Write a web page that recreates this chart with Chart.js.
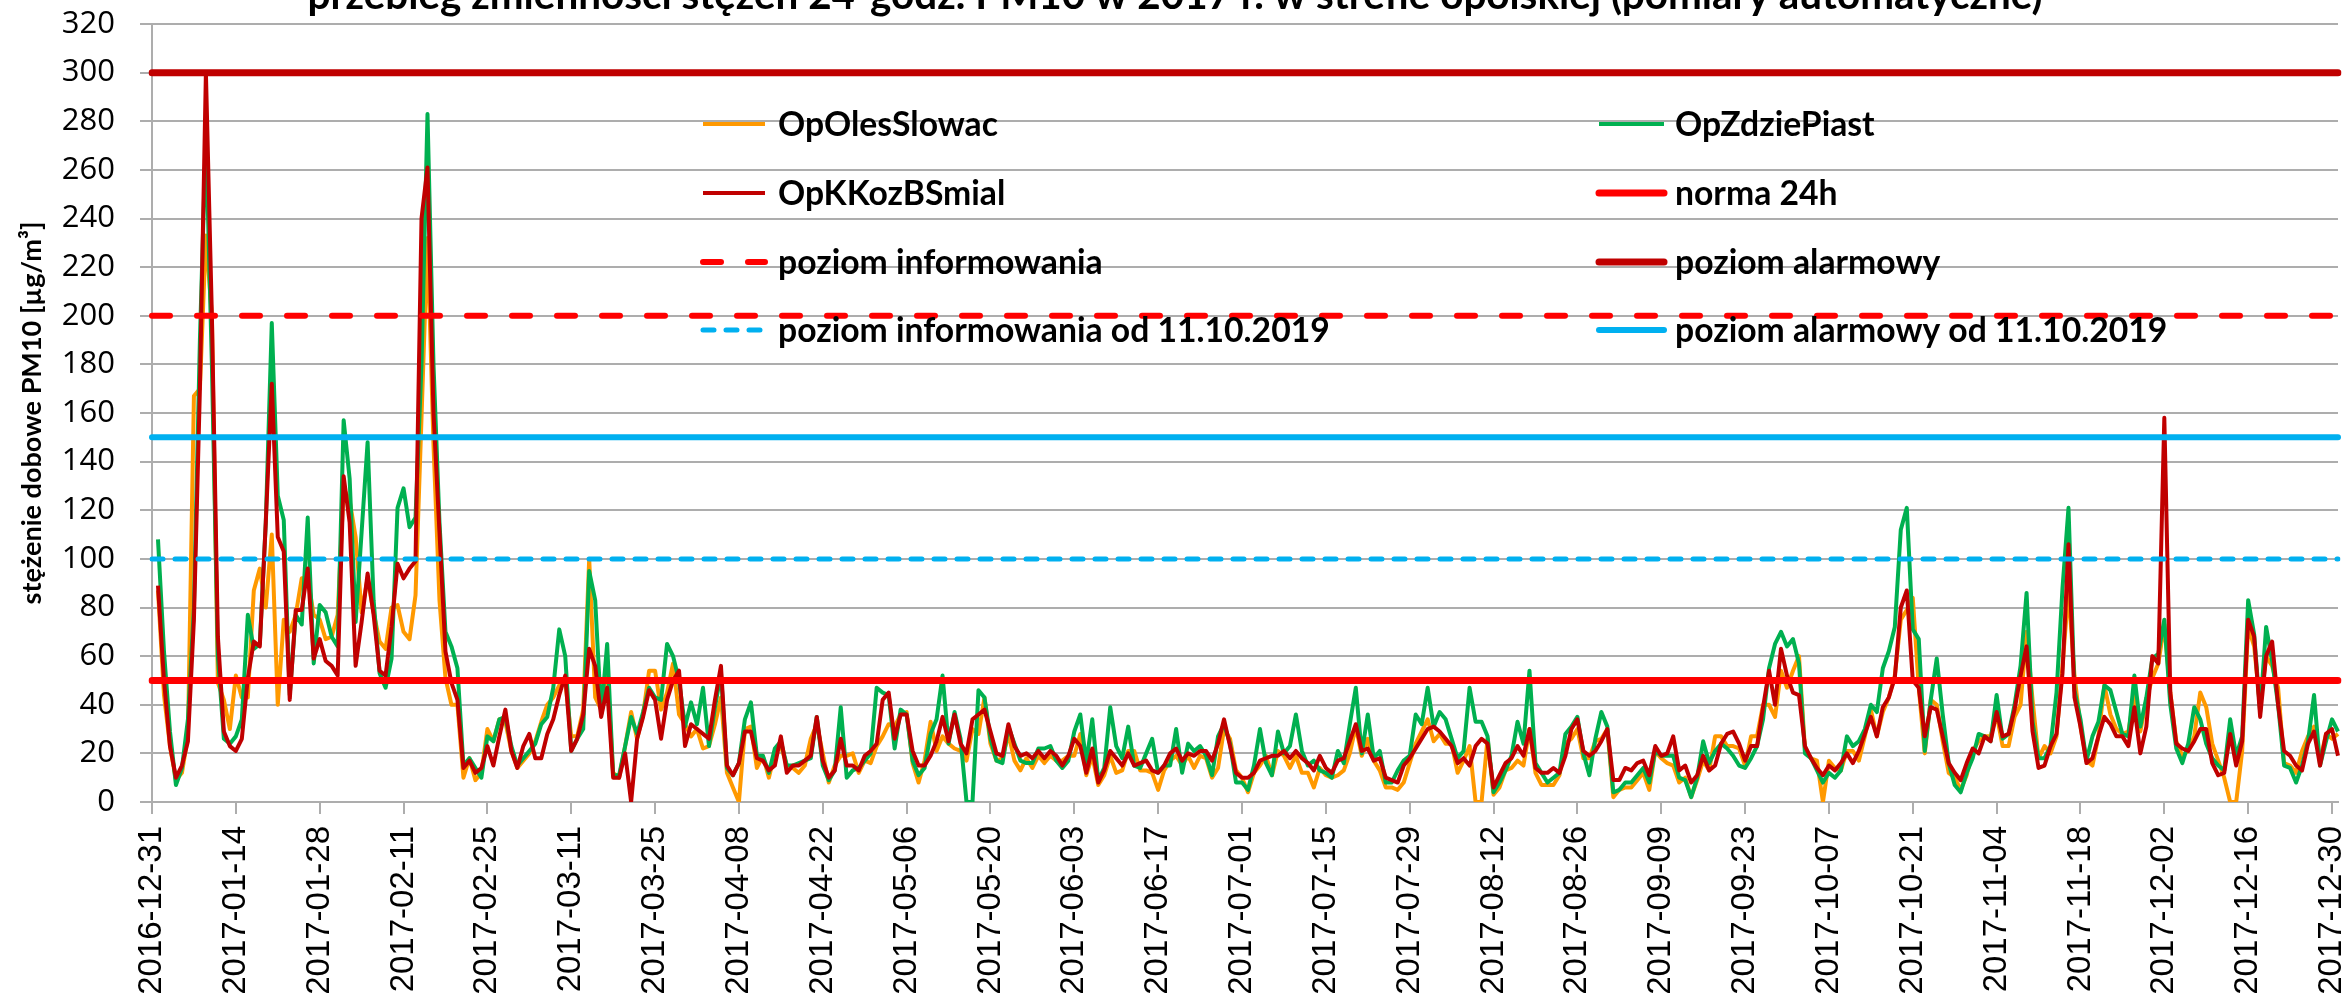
<!DOCTYPE html>
<html lang="pl">
<head>
<meta charset="utf-8">
<title>PM10 2017 strefa opolska</title>
<script src="https://cdn.jsdelivr.net/npm/chart.js@4/dist/chart.umd.min.js"></script>
<style>
  html, body { margin: 0; padding: 0; background: #fff; }
  #wrap { width: 2351px; height: 1002px; }
</style>
</head>
<body>
<div id="wrap"><canvas id="pmChart" width="2351" height="1002"></canvas></div>
<script>
// Kategorie: dni od 2016-12-31 do 2017-12-31 (pierwszy dzień bez pomiarów)
const dayLabels = [];
for (let i = 0; i < 366; i++) {
    const d = new Date(Date.UTC(2016, 11, 31 + i));
    dayLabels.push(d.toISOString().slice(0, 10));
}
const labelStep = 14;

// Stężenia dobowe PM10 [µg/m3]
const opOlesSlowac = [null,
    87,44,23,9,12,27,167,170,233,200, 49,42,30,52,43,43,87,96,80,110,
    40,75,70,77,92,92,77,75,67,68, 77,129,124,109,78,92,78,66,63,80,
    81,70,67,85,158,232,147,83,51,40, 40,10,18,9,12,30,25,34,33,21,
    14,17,20,25,33,40,43,48,50,27, 27,38,100,43,38,53,12,10,23,37,
    26,36,54,54,38,45,57,36,32,27, 30,22,23,32,43,12,6,0,30,31,
    14,19,10,20,23,15,14,12,15,26, 32,20,8,15,19,19,20,12,17,16,
    23,27,32,31,36,37,16,8,17,33, 21,27,24,22,21,17,30,28,43,24,
    17,18,28,17,13,18,14,19,16,19, 17,17,19,19,28,11,19,7,11,19,
    12,13,21,21,13,13,12,5,13,17, 19,15,19,14,19,18,10,14,30,26,
    13,10,4,12,15,19,11,21,19,14, 19,12,12,6,14,11,10,11,13,20,
    31,19,26,17,13,6,6,5,8,16, 24,29,34,25,28,24,24,12,17,23,
    0,0,26,3,6,13,14,17,15,30, 12,7,7,7,11,24,26,30,18,18,
    25,26,30,2,5,6,6,9,12,5, 21,18,16,15,8,10,2,9,17,13,
    27,27,23,23,22,15,27,27,40,40, 35,54,47,54,60,22,18,17,0,17,
    14,13,21,21,17,27,38,27,37,43, 52,75,79,84,47,20,42,40,25,12,
    10,5,11,21,25,27,27,36,23,23, 35,40,70,42,18,23,20,27,56,87,
    52,31,17,15,27,48,36,30,28,29, 44,29,42,51,57,73,45,25,19,21,
    27,45,39,24,17,10,0,0,21,72, 64,39,60,56,47,16,15,12,21,27,
    31,17,28,26,28];

const opZdziePiast = [null,
    108,62,29,7,14,34,80,190,275,180, 60,26,24,27,34,77,63,65,115,197,
    126,116,44,77,73,117,57,81,78,68, 64,157,133,74,111,148,83,53,47,59,
    121,129,113,117,180,283,180,115,70,64, 55,15,18,14,10,27,25,34,35,23,
    15,18,21,24,32,35,47,71,60,21, 26,30,95,83,36,65,11,11,23,35,
    28,37,47,43,42,65,60,50,31,41, 32,47,23,39,53,14,11,16,34,41,
    19,19,12,22,25,15,15,16,17,18, 35,15,9,13,39,10,13,14,17,20,
    47,45,44,22,38,36,17,11,14,28, 34,52,24,37,26,0,0,46,43,26,
    17,16,31,24,17,16,16,22,22,23, 17,14,17,29,36,16,34,9,14,39,
    23,18,31,15,14,20,26,12,15,15, 30,12,24,21,23,19,11,27,32,24,
    8,8,5,15,30,16,11,29,20,23, 36,21,15,17,13,12,10,21,16,32,
    47,20,36,18,21,8,8,13,17,19, 36,32,47,31,37,34,26,18,21,47,
    33,33,27,4,8,13,19,33,24,54, 16,12,8,10,12,28,31,35,20,11,
    26,37,31,4,5,8,8,11,14,8, 21,19,19,19,10,9,2,10,25,16,
    21,24,22,19,15,14,18,23,34,55, 65,70,64,67,57,20,18,13,8,12,
    10,13,27,23,25,30,40,37,55,62, 72,112,121,71,67,21,42,59,36,16,
    7,4,12,18,28,27,25,44,26,28, 40,56,86,33,18,18,23,45,88,121,
    46,34,17,27,33,48,46,37,28,27, 52,31,43,59,61,75,40,22,16,24,
    39,34,24,18,15,13,34,19,27,83, 69,37,72,58,40,15,14,8,15,25,
    44,15,25,34,29];

const opKKozBSmial = [null,
    89,50,23,10,15,25,75,170,300,200, 68,29,23,21,26,51,66,64,115,172,
    109,103,42,79,79,96,59,67,58,56, 52,134,115,56,74,94,77,54,52,72,
    98,92,96,99,240,261,160,111,62,49, 42,14,17,12,14,23,15,27,38,21,
    14,23,28,18,18,28,34,44,52,21, 26,36,63,56,35,47,10,10,20,0,
    26,35,46,42,26,42,50,54,23,32, 30,28,26,42,56,15,11,16,29,29,
    18,17,13,15,27,12,15,15,17,19, 35,17,10,13,26,15,15,13,19,21,
    24,42,45,26,36,36,21,15,15,19, 25,35,25,36,24,20,34,36,38,29,
    20,19,32,23,19,20,18,21,18,21, 19,15,19,26,23,12,22,8,13,21,
    18,15,20,15,16,17,13,12,15,20, 22,17,20,19,21,21,17,24,34,23,
    12,10,10,12,17,18,19,19,21,18, 21,18,16,13,19,14,12,17,18,25,
    32,21,22,17,18,10,9,8,15,18, 22,26,30,31,29,26,23,16,18,15,
    23,26,24,6,11,16,18,23,19,30, 14,12,12,14,12,19,30,34,21,19,
    21,25,30,9,9,14,13,16,17,11, 23,19,20,27,13,15,8,11,19,13,
    15,24,28,29,24,17,23,23,39,54, 40,63,52,45,44,23,18,14,11,15,
    13,16,20,16,21,28,35,27,39,43, 51,80,87,50,47,27,39,38,27,16,
    12,9,16,22,20,27,25,37,27,28, 38,52,64,29,14,15,23,28,53,106,
    43,31,16,18,27,35,32,27,27,23, 39,20,31,60,57,158,45,24,22,21,
    25,30,30,16,11,12,28,15,25,75, 68,35,60,66,40,21,19,15,13,24,
    29,15,28,30,19];

// Poziomy odniesienia
const norma24h = 50;
const poziomInformowania = 200;
const poziomAlarmowy = 300;
const poziomInformowania2019 = 100;
const poziomAlarmowy2019 = 150;

const chartTitle = 'przebieg zmienności stężeń 24-godz. PM10 w 2017 r. w strefie opolskiej (pomiary automatyczne)';
const yTitle = 'stężenie dobowe PM10 [µg/m³]';

function constLine(v) {
    return dayLabels.map(() => v);
}

// dopasowanie rozmiaru czcionki do szerokości tekstu
function fitSize(text, font, width) {
    const c = document.createElement('canvas').getContext('2d');
    c.font = 'bold 100px ' + font;
    return 100 * width / c.measureText(text).width;
}

const boldFont = 'Lato';
const titleSize = fitSize(chartTitle, boldFont, 1736);
const legendSize = fitSize('OpOlesSlowac', boldFont, 220);
const yTitleSize = fitSize(yTitle, boldFont, 383);

const gridColor = '#ADADAD';

function series(label, data, color, order) {
    return {
        label, data,
        borderColor: color, backgroundColor: color,
        borderWidth: 4, pointRadius: 0, tension: 0,
        borderJoinStyle: 'round', order
    };
}

function limit(label, value, color, width, dash) {
    return {
        label, data: constLine(value),
        borderColor: color, backgroundColor: color,
        borderWidth: width, borderDash: dash || [],
        borderCapStyle: 'round', pointRadius: 0, order: 0
    };
}

// legenda w polu wykresu, 2 kolumny, oraz tytuł ucięty u góry
const overlayPlugin = {
    id: 'overlay',
    afterDraw(chart) {
        const ctx = chart.ctx;
        const cols = [{ sx: 703, ex: 765, tx: 778 }, { sx: 1599, ex: 1664, tx: 1675 }];
        const rows = [124, 193, 262, 330];
        chart.data.datasets.forEach((ds, i) => {
            const c = cols[i % 2];
            const y = rows[Math.floor(i / 2)];
            ctx.save();
            ctx.strokeStyle = ds.borderColor;
            ctx.lineWidth = ds.borderWidth;
            ctx.lineCap = ds.borderCapStyle || 'butt';
            ctx.setLineDash(ds.borderDash || []);
            ctx.beginPath();
            ctx.moveTo(c.sx, y);
            ctx.lineTo(c.ex, y);
            ctx.stroke();
            ctx.setLineDash([]);
            ctx.fillStyle = '#000';
            ctx.font = 'bold ' + legendSize + 'px ' + boldFont;
            ctx.textBaseline = 'middle';
            ctx.fillText(ds.label, c.tx, y + 1);
            ctx.restore();
        });

        ctx.save();
        ctx.fillStyle = '#000';
        ctx.font = 'bold ' + titleSize + 'px ' + boldFont;
        ctx.textAlign = 'center';
        ctx.textBaseline = 'alphabetic';
        ctx.fillText(chartTitle, 1175, 9);
        ctx.restore();
    }
};

new Chart(document.getElementById('pmChart'), {
    type: 'line',
    data: {
        labels: dayLabels,
        datasets: [
            series('OpOlesSlowac', opOlesSlowac, '#FF9900', 3),
            series('OpZdziePiast', opZdziePiast, '#00B050', 2),
            series('OpKKozBSmial', opKKozBSmial, '#C00000', 1),
            limit('norma 24h', norma24h, '#FF0000', 7),
            limit('poziom informowania', poziomInformowania, '#FF0000', 6, [18, 27]),
            limit('poziom alarmowy', poziomAlarmowy, '#C00000', 7),
            limit('poziom informowania od 11.10.2019', poziomInformowania2019, '#00B0F0', 5, [11, 12]),
            limit('poziom alarmowy od 11.10.2019', poziomAlarmowy2019, '#00B0F0', 6)
        ]
    },
    options: {
        responsive: false,
        animation: false,
        devicePixelRatio: 1,
        layout: { padding: { top: 24, right: 13, left: 0, bottom: 0 } },
        plugins: {
            legend: { display: false },
            title: { display: false },
            tooltip: { enabled: false }
        },
        scales: {
            x: {
                type: 'category',
                offset: false,
                border: { color: gridColor, width: 2 },
                grid: { drawOnChartArea: false, drawTicks: true, tickLength: 12, color: gridColor, lineWidth: 2 },
                ticks: {
                    autoSkip: false,
                    minRotation: 90,
                    maxRotation: 90,
                    padding: 12,
                    color: '#000',
                    font: { family: '"Liberation Sans"', size: 33 },
                    callback: (v, i) => (i % labelStep === 0 ? dayLabels[i] : null)
                },
                afterFit: s => {
                    s.height = 200;
                    s.paddingLeft = 0;
                    s.paddingRight = 0;
                }
            },
            y: {
                min: 0,
                max: 320,
                border: { color: gridColor, width: 2 },
                grid: { color: gridColor, lineWidth: 2, tickLength: 12 },
                ticks: {
                    stepSize: 20,
                    padding: 25,
                    color: '#000',
                    font: { family: '"Open Sans"', size: 31 }
                },
                title: {
                    display: true,
                    text: yTitle,
                    color: '#000',
                    font: { family: boldFont, weight: 'bold', size: yTitleSize },
                    padding: { top: 32 - yTitleSize * 0.6, bottom: 0 }
                },
                afterFit: s => {
                    s.width = 152;
                    s.paddingTop = 0;
                    s.paddingBottom = 0;
                }
            }
        }
    },
    plugins: [overlayPlugin]
});
</script>
</body>
</html>
